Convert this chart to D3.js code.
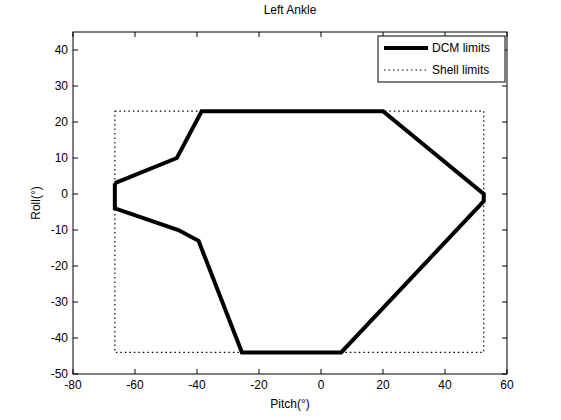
<!DOCTYPE html>
<html><head><meta charset="utf-8">
<script src="https://cdn.jsdelivr.net/npm/d3@7"></script>
<style>body{margin:0;background:#fff}text{font-family:"Liberation Sans",Arial,sans-serif;font-size:12px}</style>
</head><body><svg id="c" width="561" height="420"></svg>
<script>
const dcmPitch = [-66.5, -46.5, -38.5, 20, 52.5, 52.5, 6.5, -25.5, -39.5, -46, -66.5, -66.5];
const dcmRoll  = [3, 10, 23, 23, 0, -2, -44, -44, -13, -10, -4, 3];
const shellPitch = [-66.5, 52.5, 52.5, -66.5, -66.5];
const shellRoll  = [23, 23, -44, -44, 23];
const xTicks = [-80, -60, -40, -20, 0, 20, 40, 60];
const yTicks = [-50, -40, -30, -20, -10, 0, 10, 20, 30, 40];

const svg = d3.select("#c");
const L = 73, R = 507, T = 32, B = 374;
const x = d3.scaleLinear().domain([-80, 60]).range([L, R]);
const y = d3.scaleLinear().domain([-50, 45]).range([B, T]);

svg.append("rect").attr("x", L).attr("y", T).attr("width", R - L).attr("height", B - T)
   .attr("fill", "#fff").attr("stroke", "#000");

const g = svg.append("g");
xTicks.forEach(t => {
  g.append("line").attr("x1", x(t)).attr("x2", x(t)).attr("y1", B).attr("y2", B - 5).attr("stroke", "#000");
  g.append("line").attr("x1", x(t)).attr("x2", x(t)).attr("y1", T).attr("y2", T + 5).attr("stroke", "#000");
  g.append("text").attr("x", x(t)).attr("y", B + 15).attr("text-anchor", "middle").text(t);
});
yTicks.forEach(t => {
  g.append("line").attr("x1", L).attr("x2", L + 5).attr("y1", y(t)).attr("y2", y(t)).attr("stroke", "#000");
  g.append("line").attr("x1", R).attr("x2", R - 5).attr("y1", y(t)).attr("y2", y(t)).attr("stroke", "#000");
  g.append("text").attr("x", L - 5).attr("y", y(t) + 4).attr("text-anchor", "end").text(t);
});

const line = d3.line().x(d => x(d[0])).y(d => y(d[1]));
svg.append("path").datum(d3.zip(shellPitch, shellRoll)).attr("d", line)
   .attr("fill", "none").attr("stroke", "#000").attr("stroke-width", 1.2).attr("stroke-dasharray", "1.5,3");
svg.append("path").datum(d3.zip(dcmPitch, dcmRoll)).attr("d", line)
   .attr("fill", "none").attr("stroke", "#000").attr("stroke-width", 4).attr("stroke-linejoin", "miter");

svg.append("text").attr("x", (L + R) / 2).attr("y", 14).attr("text-anchor", "middle").text("Left Ankle");
svg.append("text").attr("x", (L + R) / 2).attr("y", 408).attr("text-anchor", "middle").text("Pitch(°)");
svg.append("text").attr("transform", `translate(40,${(T + B) / 2}) rotate(-90)`).attr("text-anchor", "middle").text("Roll(°)");

const lg = svg.append("g");
lg.append("rect").attr("x", 378).attr("y", 36).attr("width", 127).attr("height", 46).attr("fill", "#fff").attr("stroke", "#000");
lg.append("line").attr("x1", 384).attr("x2", 428).attr("y1", 48).attr("y2", 48).attr("stroke", "#000").attr("stroke-width", 4);
lg.append("line").attr("x1", 384).attr("x2", 428).attr("y1", 70).attr("y2", 70).attr("stroke", "#000").attr("stroke-width", 1.2).attr("stroke-dasharray", "1.5,3");
lg.append("text").attr("x", 432).attr("y", 52).text("DCM limits");
lg.append("text").attr("x", 432).attr("y", 74).text("Shell limits");
</script></body></html>
